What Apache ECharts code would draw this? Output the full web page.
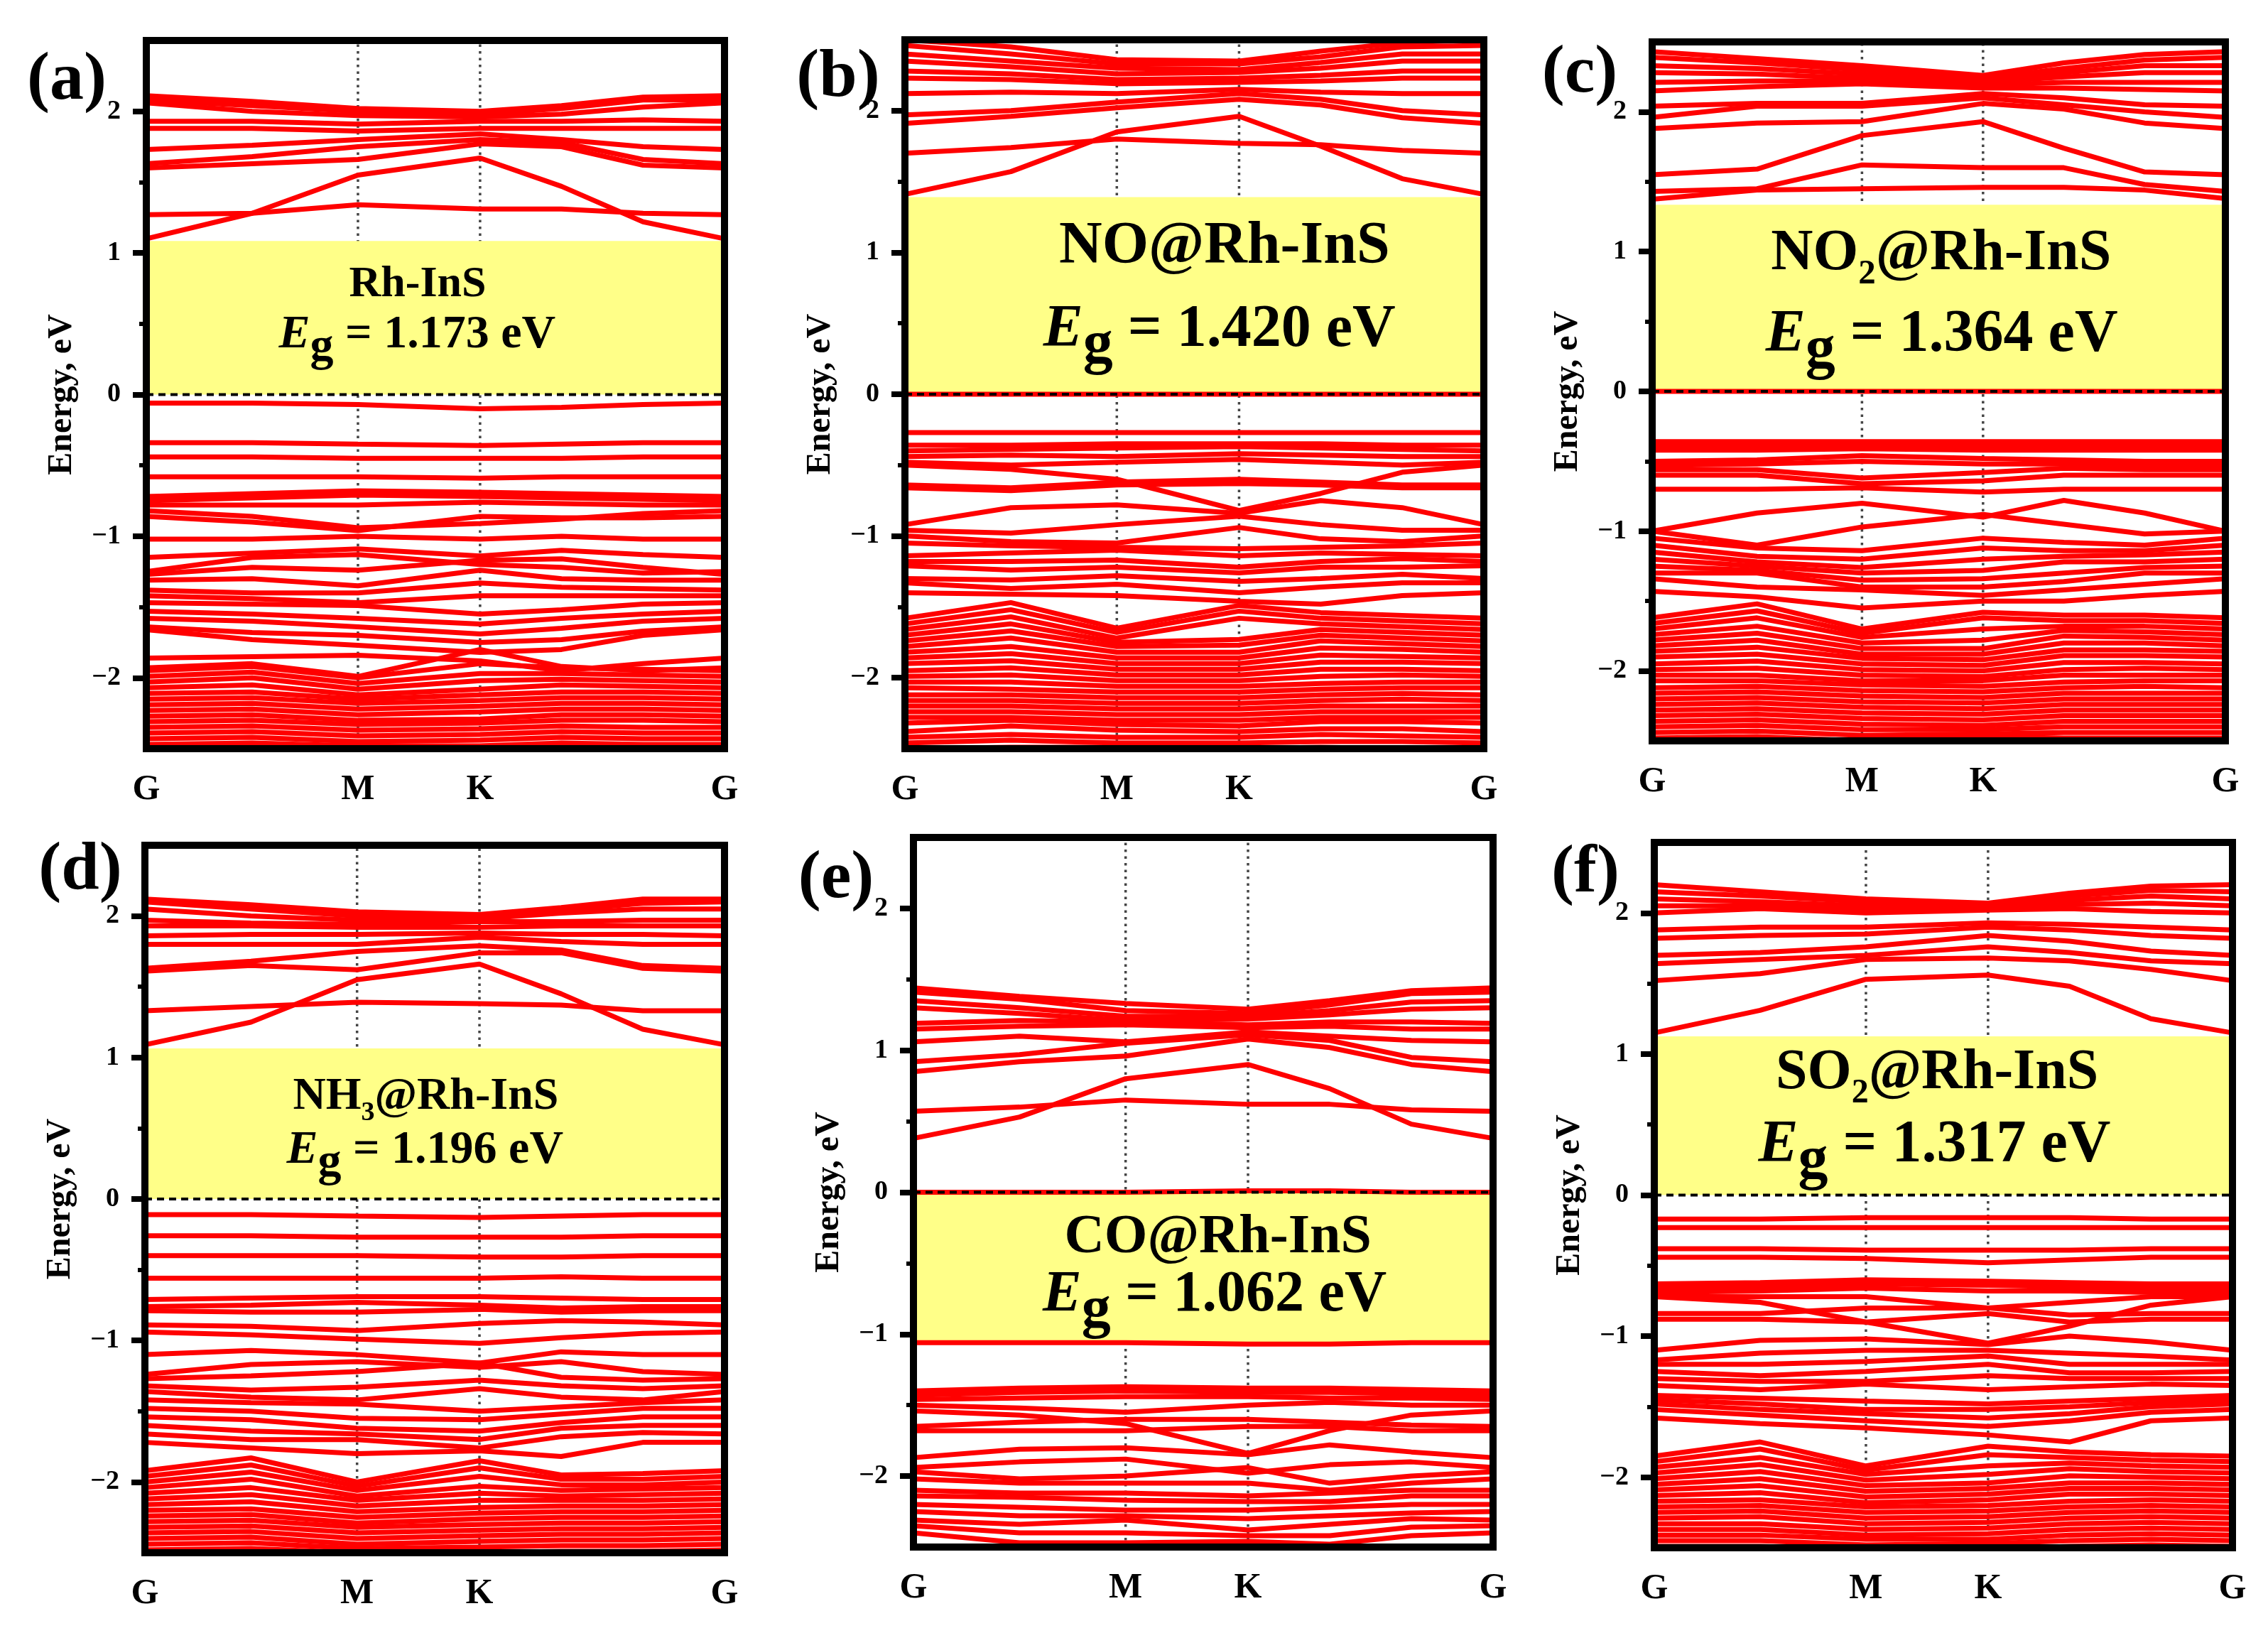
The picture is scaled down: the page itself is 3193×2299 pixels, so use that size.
<!DOCTYPE html>
<html><head><meta charset="utf-8">
<script src="https://cdn.jsdelivr.net/npm/echarts@6/dist/echarts.min.js"></script>
<style>html,body{margin:0;padding:0;background:#fff;}#c{width:3193px;height:2299px;}</style>
</head><body><div id="c"></div>
<script>
// k-path sample positions (G, mid, M, K, 1/3, 2/3, G)
const KX = [0, 0.5, 1, 1.577, 1.962, 2.347, 2.732];
const KLABEL_POS = [0, 1, 1.577, 2.732];
const KLABELS = ['G', 'M', 'K', 'G'];
const Y_MIN = -2.5, Y_MAX = 2.5;
const Y_TICKS = [-2, -1, 0, 1, 2];
const Y_MINOR = [-1.5, -0.5, 0.5, 1.5];
const TAGS = ['(a)', '(b)', '(c)', '(d)', '(e)', '(f)'];
const NAMES = ['{t|Rh-InS}', '{t|NO@Rh-InS}', '{t|NO}{s|2}{t|@Rh-InS}', '{t|NH}{s|3}{t|@Rh-InS}', '{t|CO@Rh-InS}', '{t|SO}{s|2}{t|@Rh-InS}'];
const EG = ['1.173', '1.420', '1.364', '1.196', '1.062', '1.317'];
const GAPS = [[0, 1.085], [0, 1.39], [0, 1.335], [0, 1.064], [-1.057, 0], [0, 1.125]];

const bandsA = [
 [1.10,1.28,1.55,1.67,1.47,1.22,1.10],
 [1.27,1.28,1.34,1.31,1.31,1.28,1.27],
 [1.60,1.63,1.66,1.77,1.75,1.62,1.60],
 [1.63,1.68,1.75,1.80,1.78,1.66,1.63],
 [1.73,1.76,1.80,1.84,1.80,1.75,1.73],
 [1.88,1.88,1.86,1.88,1.88,1.88,1.88],
 [1.93,1.93,1.91,1.93,1.93,1.94,1.93],
 [2.06,2.00,1.97,1.96,1.98,2.03,2.06],
 [2.08,2.04,2.00,1.98,2.02,2.08,2.08],
 [2.11,2.07,2.02,2.00,2.04,2.10,2.11],
 [-0.06,-0.06,-0.07,-0.10,-0.09,-0.07,-0.06],
 [-0.34,-0.34,-0.35,-0.36,-0.35,-0.34,-0.34],
 [-0.44,-0.44,-0.45,-0.45,-0.45,-0.44,-0.44],
 [-0.58,-0.58,-0.58,-0.59,-0.58,-0.58,-0.58],
 [-0.72,-0.70,-0.68,-0.69,-0.70,-0.71,-0.72],
 [-0.75,-0.73,-0.71,-0.72,-0.73,-0.74,-0.75],
 [-0.78,-0.78,-0.78,-0.76,-0.77,-0.78,-0.78],
 [-0.82,-0.86,-0.94,-0.91,-0.88,-0.84,-0.82],
 [-0.86,-0.90,-0.96,-0.86,-0.87,-0.87,-0.86],
 [-1.02,-1.02,-1.00,-1.02,-1.00,-1.02,-1.02],
 [-1.15,-1.12,-1.09,-1.14,-1.10,-1.13,-1.15],
 [-1.25,-1.15,-1.13,-1.20,-1.22,-1.26,-1.25],
 [-1.27,-1.22,-1.24,-1.17,-1.16,-1.22,-1.27],
 [-1.31,-1.30,-1.35,-1.24,-1.30,-1.31,-1.31],
 [-1.38,-1.40,-1.40,-1.33,-1.36,-1.37,-1.38],
 [-1.42,-1.44,-1.47,-1.42,-1.42,-1.42,-1.42],
 [-1.47,-1.48,-1.49,-1.55,-1.52,-1.48,-1.47],
 [-1.53,-1.55,-1.58,-1.62,-1.58,-1.55,-1.53],
 [-1.58,-1.60,-1.64,-1.69,-1.65,-1.60,-1.58],
 [-1.64,-1.68,-1.70,-1.75,-1.73,-1.67,-1.64],
 [-1.66,-1.73,-1.77,-1.82,-1.80,-1.70,-1.66],
 [-1.86,-1.85,-1.84,-1.88,-1.95,-1.90,-1.86],
 [-1.93,-1.90,-1.99,-1.80,-1.92,-1.95,-1.93],
 [-1.95,-1.92,-2.00,-1.90,-1.93,-1.94,-1.95],
 [-1.99,-1.96,-2.04,-1.97,-1.97,-1.98,-1.99],
 [-2.03,-2.00,-2.08,-2.02,-2.01,-2.02,-2.03],
 [-2.07,-2.05,-2.12,-2.08,-2.05,-2.06,-2.07],
 [-2.11,-2.10,-2.15,-2.12,-2.10,-2.10,-2.11],
 [-2.15,-2.14,-2.18,-2.16,-2.14,-2.14,-2.15],
 [-2.19,-2.18,-2.22,-2.20,-2.18,-2.18,-2.19],
 [-2.23,-2.22,-2.26,-2.24,-2.22,-2.22,-2.23],
 [-2.27,-2.26,-2.30,-2.29,-2.26,-2.26,-2.27],
 [-2.31,-2.30,-2.33,-2.32,-2.30,-2.30,-2.31],
 [-2.35,-2.34,-2.37,-2.36,-2.34,-2.35,-2.35],
 [-2.39,-2.38,-2.41,-2.40,-2.38,-2.39,-2.39],
 [-2.43,-2.42,-2.45,-2.44,-2.42,-2.43,-2.43],
 [-2.47,-2.46,-2.48,-2.48,-2.46,-2.47,-2.47],
 [-2.51,-2.50,-2.52,-2.52,-2.50,-2.51,-2.51]
];

const bandsB = [
 [1.41,1.57,1.85,1.96,1.75,1.52,1.41],
 [1.70,1.74,1.80,1.77,1.76,1.72,1.70],
 [1.91,1.96,2.02,2.08,2.04,1.95,1.91],
 [1.97,2.00,2.06,2.12,2.08,2.00,1.97],
 [2.12,2.13,2.12,2.15,2.13,2.12,2.12],
 [2.23,2.22,2.19,2.20,2.21,2.23,2.23],
 [2.28,2.26,2.22,2.23,2.25,2.28,2.28],
 [2.35,2.31,2.26,2.27,2.30,2.35,2.35],
 [2.40,2.35,2.30,2.29,2.34,2.40,2.40],
 [2.46,2.40,2.33,2.33,2.38,2.45,2.46],
 [2.50,2.45,2.36,2.35,2.42,2.48,2.50],
 [0.00,0.00,0.00,0.00,0.00,0.00,0.00],
 [-0.27,-0.27,-0.27,-0.27,-0.27,-0.27,-0.27],
 [-0.36,-0.36,-0.35,-0.35,-0.35,-0.36,-0.36],
 [-0.40,-0.39,-0.38,-0.37,-0.38,-0.39,-0.40],
 [-0.44,-0.43,-0.44,-0.42,-0.43,-0.44,-0.44],
 [-0.48,-0.50,-0.48,-0.46,-0.48,-0.50,-0.48],
 [-0.50,-0.53,-0.60,-0.82,-0.70,-0.55,-0.50],
 [-0.64,-0.66,-0.62,-0.60,-0.62,-0.64,-0.64],
 [-0.66,-0.68,-0.64,-0.63,-0.64,-0.66,-0.66],
 [-0.92,-0.80,-0.78,-0.84,-0.75,-0.80,-0.92],
 [-0.96,-0.98,-0.92,-0.86,-0.92,-0.96,-0.96],
 [-1.00,-1.04,-1.05,-0.94,-1.02,-1.04,-1.00],
 [-1.05,-1.07,-1.08,-1.09,-1.08,-1.07,-1.05],
 [-1.14,-1.12,-1.10,-1.14,-1.12,-1.13,-1.14],
 [-1.18,-1.18,-1.17,-1.22,-1.18,-1.16,-1.18],
 [-1.21,-1.24,-1.22,-1.26,-1.22,-1.22,-1.21],
 [-1.30,-1.31,-1.28,-1.32,-1.30,-1.27,-1.30],
 [-1.33,-1.37,-1.34,-1.40,-1.36,-1.33,-1.33],
 [-1.40,-1.41,-1.42,-1.46,-1.48,-1.42,-1.40],
 [-1.58,-1.47,-1.65,-1.49,-1.54,-1.56,-1.58],
 [-1.62,-1.52,-1.68,-1.53,-1.58,-1.60,-1.62],
 [-1.66,-1.57,-1.72,-1.58,-1.62,-1.64,-1.66],
 [-1.70,-1.62,-1.75,-1.73,-1.66,-1.68,-1.70],
 [-1.74,-1.67,-1.78,-1.77,-1.70,-1.72,-1.74],
 [-1.78,-1.72,-1.82,-1.82,-1.74,-1.76,-1.78],
 [-1.82,-1.78,-1.86,-1.86,-1.79,-1.80,-1.82],
 [-1.86,-1.83,-1.90,-1.90,-1.84,-1.85,-1.86],
 [-1.90,-1.88,-1.94,-1.94,-1.89,-1.89,-1.90],
 [-1.95,-1.93,-1.98,-1.98,-1.94,-1.94,-1.95],
 [-1.99,-1.98,-2.02,-2.02,-1.99,-1.98,-1.99],
 [-2.03,-2.03,-2.06,-2.06,-2.04,-2.03,-2.03],
 [-2.07,-2.08,-2.10,-2.10,-2.08,-2.07,-2.07],
 [-2.12,-2.12,-2.14,-2.14,-2.12,-2.11,-2.12],
 [-2.16,-2.16,-2.18,-2.18,-2.16,-2.15,-2.16],
 [-2.20,-2.20,-2.22,-2.22,-2.20,-2.20,-2.20],
 [-2.24,-2.24,-2.26,-2.26,-2.24,-2.24,-2.24],
 [-2.28,-2.28,-2.30,-2.30,-2.28,-2.28,-2.28],
 [-2.32,-2.30,-2.33,-2.34,-2.31,-2.31,-2.32],
 [-2.38,-2.34,-2.37,-2.38,-2.36,-2.36,-2.38],
 [-2.42,-2.40,-2.42,-2.42,-2.40,-2.41,-2.42],
 [-2.46,-2.44,-2.46,-2.46,-2.45,-2.45,-2.46],
 [-2.50,-2.49,-2.49,-2.50,-2.49,-2.50,-2.50]
];

const bandsC = [
 [1.375,1.44,1.45,1.46,1.46,1.44,1.38],
 [1.43,1.45,1.62,1.60,1.60,1.48,1.43],
 [1.55,1.59,1.83,1.93,1.74,1.57,1.55],
 [1.88,1.92,1.93,2.06,2.02,1.92,1.88],
 [1.96,2.04,2.04,2.10,2.05,2.00,1.96],
 [2.04,2.06,2.06,2.13,2.10,2.05,2.04],
 [2.15,2.18,2.20,2.17,2.17,2.16,2.15],
 [2.21,2.22,2.22,2.19,2.21,2.21,2.21],
 [2.28,2.27,2.24,2.21,2.25,2.28,2.28],
 [2.33,2.31,2.27,2.23,2.28,2.33,2.33],
 [2.39,2.35,2.30,2.24,2.31,2.37,2.39],
 [2.43,2.38,2.33,2.26,2.35,2.41,2.43],
 [0.00,0.00,0.00,0.00,0.00,0.00,0.00],
 [-0.36,-0.36,-0.36,-0.36,-0.36,-0.36,-0.36],
 [-0.39,-0.39,-0.39,-0.39,-0.39,-0.39,-0.39],
 [-0.42,-0.42,-0.41,-0.42,-0.42,-0.42,-0.42],
 [-0.50,-0.49,-0.46,-0.48,-0.49,-0.50,-0.50],
 [-0.53,-0.52,-0.50,-0.52,-0.52,-0.53,-0.53],
 [-0.56,-0.56,-0.62,-0.58,-0.55,-0.56,-0.56],
 [-0.60,-0.60,-0.66,-0.64,-0.60,-0.60,-0.60],
 [-0.70,-0.70,-0.69,-0.72,-0.70,-0.70,-0.70],
 [-1.00,-0.87,-0.80,-0.90,-0.78,-0.87,-1.00],
 [-1.00,-1.10,-0.97,-0.88,-0.95,-1.02,-1.00],
 [-1.05,-1.12,-1.14,-1.05,-1.08,-1.10,-1.05],
 [-1.10,-1.18,-1.20,-1.12,-1.14,-1.14,-1.10],
 [-1.15,-1.22,-1.26,-1.20,-1.18,-1.17,-1.15],
 [-1.20,-1.25,-1.30,-1.28,-1.22,-1.22,-1.20],
 [-1.25,-1.28,-1.35,-1.34,-1.30,-1.26,-1.25],
 [-1.30,-1.30,-1.40,-1.40,-1.36,-1.30,-1.30],
 [-1.34,-1.40,-1.42,-1.46,-1.42,-1.38,-1.34],
 [-1.43,-1.47,-1.55,-1.50,-1.50,-1.46,-1.43],
 [-1.62,-1.52,-1.70,-1.58,-1.60,-1.60,-1.62],
 [-1.66,-1.57,-1.73,-1.62,-1.64,-1.64,-1.66],
 [-1.70,-1.62,-1.76,-1.70,-1.68,-1.68,-1.70],
 [-1.74,-1.68,-1.80,-1.78,-1.71,-1.72,-1.74],
 [-1.78,-1.73,-1.84,-1.84,-1.75,-1.76,-1.78],
 [-1.82,-1.78,-1.88,-1.88,-1.80,-1.80,-1.82],
 [-1.86,-1.83,-1.91,-1.92,-1.85,-1.85,-1.86],
 [-1.90,-1.88,-1.95,-1.96,-1.89,-1.89,-1.90],
 [-1.95,-1.93,-1.99,-2.00,-1.94,-1.94,-1.95],
 [-1.99,-1.98,-2.03,-2.04,-1.99,-1.98,-1.99],
 [-2.03,-2.03,-2.07,-2.07,-2.03,-2.03,-2.03],
 [-2.07,-2.07,-2.10,-2.11,-2.08,-2.07,-2.07],
 [-2.12,-2.11,-2.14,-2.15,-2.12,-2.11,-2.12],
 [-2.16,-2.15,-2.18,-2.19,-2.16,-2.16,-2.16],
 [-2.20,-2.19,-2.22,-2.23,-2.20,-2.20,-2.20],
 [-2.24,-2.23,-2.26,-2.27,-2.24,-2.24,-2.24],
 [-2.28,-2.27,-2.30,-2.31,-2.28,-2.28,-2.28],
 [-2.32,-2.31,-2.34,-2.35,-2.32,-2.32,-2.32],
 [-2.36,-2.35,-2.38,-2.39,-2.36,-2.36,-2.36],
 [-2.40,-2.39,-2.42,-2.42,-2.40,-2.40,-2.40],
 [-2.44,-2.43,-2.46,-2.45,-2.44,-2.44,-2.44],
 [-2.48,-2.47,-2.50,-2.47,-2.48,-2.48,-2.48]
];

const bandsD = [
 [1.09,1.25,1.55,1.66,1.45,1.20,1.09],
 [1.33,1.36,1.39,1.38,1.37,1.33,1.33],
 [1.61,1.65,1.62,1.74,1.74,1.63,1.61],
 [1.63,1.68,1.75,1.79,1.76,1.65,1.63],
 [1.80,1.80,1.80,1.85,1.82,1.80,1.80],
 [1.86,1.87,1.87,1.88,1.87,1.87,1.86],
 [1.93,1.93,1.92,1.92,1.93,1.93,1.93],
 [1.97,1.95,1.94,1.96,1.96,1.97,1.97],
 [2.05,2.00,1.97,1.98,2.02,2.05,2.05],
 [2.10,2.05,2.00,1.99,2.04,2.09,2.10],
 [2.12,2.08,2.03,2.01,2.06,2.12,2.12],
 [-0.11,-0.11,-0.12,-0.13,-0.12,-0.11,-0.11],
 [-0.26,-0.26,-0.27,-0.27,-0.27,-0.26,-0.26],
 [-0.40,-0.40,-0.40,-0.41,-0.41,-0.40,-0.40],
 [-0.56,-0.56,-0.56,-0.56,-0.55,-0.56,-0.56],
 [-0.71,-0.70,-0.69,-0.69,-0.70,-0.71,-0.71],
 [-0.76,-0.75,-0.73,-0.75,-0.77,-0.76,-0.76],
 [-0.79,-0.80,-0.80,-0.78,-0.80,-0.79,-0.79],
 [-0.89,-0.90,-0.93,-0.88,-0.86,-0.87,-0.89],
 [-0.94,-0.96,-0.99,-1.02,-0.98,-0.95,-0.94],
 [-1.10,-1.07,-1.10,-1.16,-1.08,-1.10,-1.10],
 [-1.24,-1.17,-1.15,-1.19,-1.15,-1.22,-1.24],
 [-1.27,-1.25,-1.22,-1.16,-1.26,-1.28,-1.27],
 [-1.32,-1.35,-1.33,-1.28,-1.32,-1.34,-1.32],
 [-1.36,-1.40,-1.42,-1.34,-1.40,-1.42,-1.36],
 [-1.42,-1.44,-1.45,-1.50,-1.47,-1.44,-1.42],
 [-1.48,-1.50,-1.55,-1.56,-1.52,-1.48,-1.48],
 [-1.54,-1.56,-1.62,-1.64,-1.58,-1.54,-1.54],
 [-1.60,-1.64,-1.66,-1.70,-1.62,-1.60,-1.60],
 [-1.66,-1.70,-1.70,-1.76,-1.68,-1.65,-1.66],
 [-1.72,-1.76,-1.80,-1.78,-1.82,-1.72,-1.72],
 [-1.92,-1.83,-2.00,-1.85,-1.95,-1.94,-1.92],
 [-1.96,-1.88,-2.03,-1.90,-1.98,-1.98,-1.96],
 [-2.00,-1.93,-2.06,-1.96,-2.02,-2.02,-2.00],
 [-2.04,-1.98,-2.10,-2.03,-2.06,-2.05,-2.04],
 [-2.08,-2.04,-2.13,-2.08,-2.10,-2.09,-2.08],
 [-2.12,-2.09,-2.17,-2.13,-2.13,-2.13,-2.12],
 [-2.16,-2.14,-2.21,-2.18,-2.17,-2.17,-2.16],
 [-2.20,-2.19,-2.25,-2.22,-2.21,-2.21,-2.20],
 [-2.24,-2.23,-2.29,-2.26,-2.25,-2.25,-2.24],
 [-2.28,-2.27,-2.32,-2.30,-2.29,-2.29,-2.28],
 [-2.32,-2.31,-2.36,-2.34,-2.33,-2.33,-2.32],
 [-2.36,-2.35,-2.40,-2.38,-2.37,-2.37,-2.36],
 [-2.40,-2.39,-2.44,-2.42,-2.41,-2.41,-2.40],
 [-2.44,-2.43,-2.47,-2.46,-2.45,-2.45,-2.44],
 [-2.48,-2.47,-2.50,-2.50,-2.49,-2.49,-2.48]
];

const bandsE = [
 [0.38,0.53,0.80,0.90,0.73,0.48,0.38],
 [0.57,0.60,0.65,0.62,0.62,0.58,0.57],
 [0.85,0.92,0.96,1.08,1.02,0.90,0.85],
 [0.92,0.97,1.05,1.11,1.07,0.95,0.92],
 [1.06,1.10,1.06,1.13,1.10,1.07,1.06],
 [1.15,1.17,1.18,1.16,1.17,1.15,1.15],
 [1.19,1.21,1.20,1.18,1.20,1.20,1.19],
 [1.30,1.26,1.21,1.22,1.25,1.29,1.30],
 [1.35,1.30,1.24,1.24,1.28,1.34,1.35],
 [1.41,1.36,1.28,1.26,1.32,1.40,1.41],
 [1.44,1.38,1.33,1.29,1.35,1.42,1.44],
 [0.00,0.00,0.00,0.01,0.01,0.00,0.00],
 [-1.06,-1.06,-1.06,-1.07,-1.07,-1.06,-1.06],
 [-1.40,-1.38,-1.37,-1.38,-1.38,-1.39,-1.40],
 [-1.43,-1.41,-1.40,-1.41,-1.41,-1.42,-1.43],
 [-1.46,-1.45,-1.44,-1.44,-1.45,-1.45,-1.46],
 [-1.50,-1.52,-1.55,-1.50,-1.48,-1.50,-1.50],
 [-1.54,-1.57,-1.63,-1.84,-1.68,-1.57,-1.54],
 [-1.65,-1.62,-1.60,-1.60,-1.62,-1.64,-1.65],
 [-1.68,-1.68,-1.68,-1.65,-1.65,-1.68,-1.68],
 [-1.87,-1.81,-1.80,-1.85,-1.78,-1.83,-1.87],
 [-1.94,-1.90,-1.88,-1.98,-1.92,-1.90,-1.94],
 [-1.97,-2.02,-2.00,-1.94,-2.05,-2.00,-1.97],
 [-2.02,-2.05,-2.05,-2.05,-2.10,-2.05,-2.02],
 [-2.10,-2.12,-2.12,-2.14,-2.12,-2.10,-2.10],
 [-2.14,-2.15,-2.17,-2.18,-2.18,-2.14,-2.14],
 [-2.20,-2.22,-2.24,-2.24,-2.22,-2.20,-2.20],
 [-2.25,-2.28,-2.28,-2.30,-2.28,-2.26,-2.25],
 [-2.31,-2.34,-2.31,-2.38,-2.34,-2.30,-2.31],
 [-2.35,-2.40,-2.40,-2.42,-2.42,-2.36,-2.35],
 [-2.40,-2.47,-2.47,-2.46,-2.48,-2.42,-2.40]
];

const bandsF = [
 [1.15,1.31,1.53,1.56,1.48,1.25,1.15],
 [1.52,1.57,1.67,1.68,1.66,1.60,1.52],
 [1.64,1.67,1.70,1.76,1.72,1.66,1.64],
 [1.70,1.72,1.76,1.84,1.80,1.73,1.70],
 [1.82,1.84,1.85,1.90,1.88,1.84,1.82],
 [1.88,1.90,1.90,1.93,1.92,1.90,1.88],
 [2.00,2.03,2.00,2.02,2.03,2.01,2.00],
 [2.05,2.05,2.02,2.04,2.06,2.07,2.05],
 [2.10,2.08,2.05,2.05,2.09,2.12,2.10],
 [2.15,2.12,2.08,2.06,2.12,2.16,2.15],
 [2.20,2.15,2.10,2.07,2.14,2.19,2.20],
 [-0.17,-0.17,-0.16,-0.16,-0.16,-0.17,-0.17],
 [-0.23,-0.23,-0.23,-0.23,-0.23,-0.23,-0.23],
 [-0.38,-0.38,-0.39,-0.39,-0.39,-0.38,-0.38],
 [-0.44,-0.44,-0.45,-0.48,-0.46,-0.44,-0.44],
 [-0.63,-0.62,-0.60,-0.61,-0.62,-0.63,-0.63],
 [-0.66,-0.65,-0.63,-0.64,-0.65,-0.66,-0.66],
 [-0.69,-0.68,-0.66,-0.68,-0.68,-0.69,-0.69],
 [-0.72,-0.76,-0.90,-1.05,-0.93,-0.78,-0.72],
 [-0.72,-0.72,-0.72,-0.80,-0.76,-0.72,-0.72],
 [-0.84,-0.84,-0.80,-0.80,-0.85,-0.84,-0.84],
 [-0.88,-0.88,-0.90,-0.84,-0.90,-0.88,-0.88],
 [-1.10,-1.03,-1.02,-1.06,-1.00,-1.04,-1.10],
 [-1.17,-1.12,-1.10,-1.10,-1.12,-1.14,-1.17],
 [-1.20,-1.20,-1.18,-1.14,-1.20,-1.20,-1.20],
 [-1.25,-1.28,-1.25,-1.20,-1.26,-1.26,-1.25],
 [-1.30,-1.32,-1.32,-1.28,-1.30,-1.30,-1.30],
 [-1.35,-1.38,-1.34,-1.38,-1.36,-1.34,-1.35],
 [-1.42,-1.44,-1.46,-1.48,-1.46,-1.44,-1.42],
 [-1.45,-1.48,-1.52,-1.52,-1.50,-1.47,-1.45],
 [-1.48,-1.52,-1.55,-1.58,-1.55,-1.50,-1.48],
 [-1.52,-1.56,-1.60,-1.64,-1.60,-1.54,-1.52],
 [-1.58,-1.62,-1.65,-1.70,-1.75,-1.60,-1.58],
 [-1.85,-1.75,-1.92,-1.78,-1.82,-1.84,-1.85],
 [-1.89,-1.80,-1.95,-1.84,-1.86,-1.88,-1.89],
 [-1.93,-1.86,-1.98,-1.92,-1.90,-1.92,-1.93],
 [-1.97,-1.91,-2.02,-1.98,-1.94,-1.96,-1.97],
 [-2.01,-1.96,-2.06,-2.04,-1.99,-2.00,-2.01],
 [-2.05,-2.01,-2.10,-2.08,-2.04,-2.04,-2.05],
 [-2.09,-2.06,-2.14,-2.12,-2.08,-2.08,-2.09],
 [-2.13,-2.11,-2.18,-2.16,-2.12,-2.12,-2.13],
 [-2.17,-2.16,-2.21,-2.20,-2.17,-2.16,-2.17],
 [-2.21,-2.20,-2.25,-2.24,-2.21,-2.20,-2.21],
 [-2.25,-2.24,-2.29,-2.28,-2.25,-2.24,-2.25],
 [-2.29,-2.28,-2.33,-2.32,-2.29,-2.28,-2.29],
 [-2.33,-2.33,-2.37,-2.36,-2.33,-2.32,-2.33],
 [-2.37,-2.37,-2.41,-2.40,-2.37,-2.36,-2.37],
 [-2.41,-2.41,-2.44,-2.44,-2.41,-2.40,-2.41],
 [-2.45,-2.45,-2.48,-2.47,-2.45,-2.44,-2.45],
 [-2.49,-2.49,-2.51,-2.51,-2.49,-2.48,-2.49]
];

const BANDS = [bandsA, bandsB, bandsC, bandsD, bandsE, bandsF];

// ---------- layout / style (not data) ----------
const FONT = '"Liberation Serif","Times New Roman",serif';
const GRIDS = [
 {left: 206, top: 57, width: 814, height: 997},
 {left: 1274, top: 56, width: 815, height: 998},
 {left: 2326, top: 59, width: 807, height: 984},
 {left: 204, top: 1190, width: 816, height: 996},
 {left: 1286, top: 1179, width: 816, height: 999},
 {left: 2329, top: 1186, width: 814, height: 993}
];
const TAG_POS = [[94, 114], [1180, 110], [2224, 104], [113, 1226], [1177, 1238], [2232, 1230]];
const TXT = [
 {p1: [1.282, 0.774], p2: [1.280, 0.417], f1: 62, f2: 66},
 {p1: [1.508, 1.035], p2: [1.484, 0.45], f1: 84, f2: 84},
 {p1: [1.377, 0.98], p2: [1.380, 0.40], f1: 82, f2: 84},
 {p1: [1.324, 0.72], p2: [1.320, 0.34], f1: 64, f2: 66},
 {p1: [1.435, -0.324], p2: [1.420, -0.726], f1: 78, f2: 82},
 {p1: [1.336, 0.86], p2: [1.324, 0.35], f1: 80, f2: 84}
];
const KMAX = KX[KX.length - 1];
const BLACK = '#000';

const option = {
  animation: false,
  backgroundColor: '#fff',
  grid: GRIDS.map(g => Object.assign({containLabel: false, show: false}, g)),
  xAxis: [], yAxis: [], series: []
};

const frameLine = {show: true, onZero: false, lineStyle: {color: BLACK, width: 10, cap: 'square'}};

GRIDS.forEach((g, i) => {
  option.xAxis.push({
    gridIndex: i, type: 'value', min: 0, max: KMAX, position: 'bottom', z: 10,
    axisLine: frameLine, axisTick: {show: false}, splitLine: {show: false},
    axisLabel: {
      customValues: KLABEL_POS, margin: 33, color: BLACK, fontSize: 50, fontWeight: 'bold', fontFamily: FONT,
      formatter: v => { const k = KLABEL_POS.findIndex(p => Math.abs(p - v) < 1e-6); return k >= 0 ? KLABELS[k] : ''; }
    }
  });
  option.xAxis.push({
    gridIndex: i, type: 'value', min: 0, max: KMAX, position: 'top', z: 10,
    axisLine: frameLine, axisTick: {show: false}, splitLine: {show: false}, axisLabel: {show: false}
  });
  option.yAxis.push({
    gridIndex: i, type: 'value', min: Y_MIN, max: Y_MAX, position: 'left', z: 10,
    axisLine: frameLine, splitLine: {show: false},
    axisTick: {show: true, customValues: Y_TICKS, length: 19, lineStyle: {color: BLACK, width: 8}},
    axisLabel: {
      customValues: Y_TICKS, margin: 36, color: BLACK, fontSize: 38, fontWeight: 'bold', fontFamily: FONT,
      formatter: v => (v < 0 ? '\u2212' + Math.abs(v) : String(v))
    },
    name: 'Energy, eV', nameLocation: 'middle', nameGap: 94,
    nameTextStyle: {color: BLACK, fontSize: 48, fontWeight: 'bold', fontFamily: FONT}
  });
  option.yAxis.push({
    gridIndex: i, type: 'value', min: Y_MIN, max: Y_MAX, position: 'left', z: 10,
    axisLine: {show: false, onZero: false}, splitLine: {show: false}, axisLabel: {show: false},
    axisTick: {show: true, customValues: Y_MINOR, length: 10, lineStyle: {color: BLACK, width: 6}}
  });
  option.yAxis.push({
    gridIndex: i, type: 'value', min: Y_MIN, max: Y_MAX, position: 'right', z: 10,
    axisLine: frameLine, splitLine: {show: false}, axisLabel: {show: false}, axisTick: {show: false}
  });

  const xi = i * 2, yi = i * 3;
  [KLABEL_POS[1], KLABEL_POS[2]].forEach(kx => {
    option.series.push({
      type: 'line', xAxisIndex: xi, yAxisIndex: yi, z: 0, silent: true, symbol: 'none',
      data: [[kx, Y_MIN], [kx, Y_MAX]],
      lineStyle: {color: '#444', width: 3.5, type: [3.5, 6]}
    });
  });
  const gap = GAPS[i];
  option.series.push({
    type: 'custom', xAxisIndex: xi, yAxisIndex: yi, z: 1, silent: true,
    data: [[0, gap[0], KMAX, gap[1]]],
    encode: {x: [0, 2], y: [1, 3]},
    renderItem: (params, api) => {
      const a = api.coord([api.value(0), api.value(1)]);
      const b = api.coord([api.value(2), api.value(3)]);
      return {type: 'rect', shape: {x: a[0], y: Math.min(a[1], b[1]), width: b[0] - a[0], height: Math.abs(a[1] - b[1])},
              style: {fill: '#FFFF88'}};
    }
  });
  BANDS[i].forEach(b => {
    option.series.push({
      type: 'line', xAxisIndex: xi, yAxisIndex: yi, z: 2, silent: true, symbol: 'none', showSymbol: false,
      data: KX.map((x, j) => [x, b[j]]),
      lineStyle: {color: '#FF0000', width: 7}
    });
  });
  option.series.push({
    type: 'line', xAxisIndex: xi, yAxisIndex: yi, z: 3, silent: true, symbol: 'none',
    data: [[0, 0], [KMAX, 0]],
    lineStyle: {color: BLACK, width: 4, type: [10, 7]}
  });
});

const chart = echarts.init(document.getElementById('c'));
chart.setOption(option);

const graphics = [];
TAG_POS.forEach((p, i) => {
  graphics.push({type: 'text', x: p[0], y: p[1], z: 20, silent: true,
    style: {text: TAGS[i], fill: BLACK, fontSize: 96, fontWeight: 'bold', fontFamily: FONT,
            align: 'center', verticalAlign: 'middle', textAlign: 'center', textVerticalAlign: 'middle'}});
});
TXT.forEach((t, i) => {
  const a = chart.convertToPixel({gridIndex: i}, t.p1);
  const b = chart.convertToPixel({gridIndex: i}, t.p2);
  const f1 = t.f1, f2 = t.f2;
  graphics.push({type: 'text', x: a[0], y: a[1], z: 20, silent: true,
    style: {text: NAMES[i], align: 'center', verticalAlign: 'middle', textAlign: 'center', textVerticalAlign: 'middle',
      fill: BLACK, fontSize: f1, fontWeight: 'bold', fontFamily: FONT,
      rich: {
        t: {fill: BLACK, fontSize: f1, fontWeight: 'bold', fontFamily: FONT},
        s: {fill: BLACK, fontSize: Math.round(f1 * 0.6), fontWeight: 'bold', fontFamily: FONT, padding: [Math.round(f1 * 0.7), 0, 0, 0]}
      }}});
  graphics.push({type: 'text', x: b[0], y: b[1], z: 20, silent: true,
    style: {text: '{e|E}{g|g}{t| = ' + EG[i] + ' eV}', align: 'center', verticalAlign: 'middle', textAlign: 'center', textVerticalAlign: 'middle',
      fill: BLACK, fontSize: f2, fontWeight: 'bold', fontFamily: FONT,
      rich: {
        e: {fill: BLACK, fontSize: f2, fontWeight: 'bold', fontStyle: 'italic', fontFamily: FONT},
        g: {fill: BLACK, fontSize: f2, fontWeight: 'bold', fontFamily: FONT, padding: [Math.round(f2 * 0.55), 0, 0, 0]},
        t: {fill: BLACK, fontSize: f2, fontWeight: 'bold', fontFamily: FONT}
      }}});
});
chart.setOption({graphic: graphics});
</script>
</body></html>
